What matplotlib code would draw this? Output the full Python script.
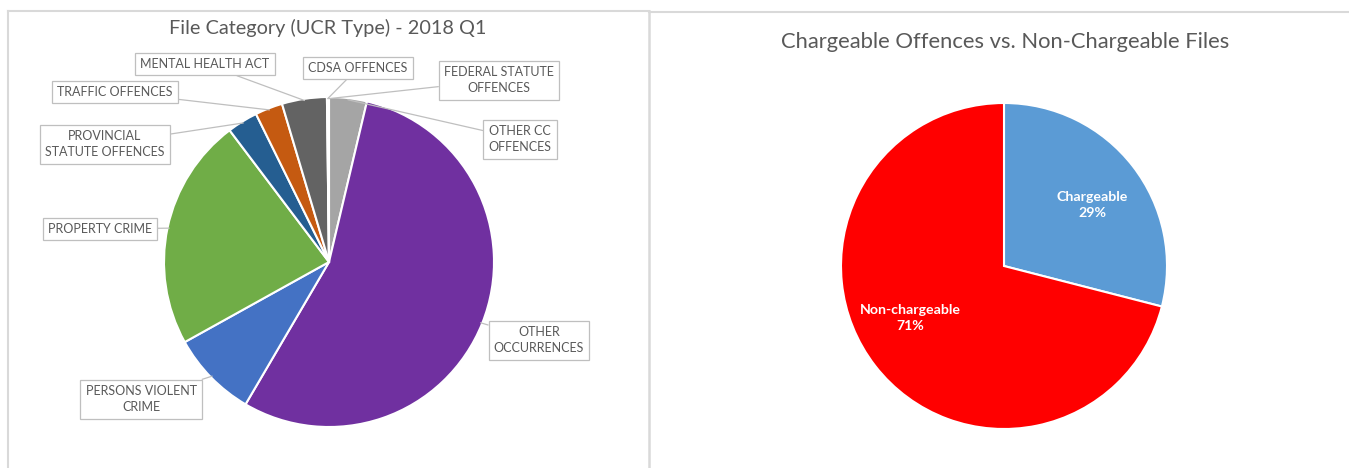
import matplotlib
matplotlib.use("Agg")
import matplotlib.pyplot as plt
import numpy as np
from matplotlib.lines import Line2D

plt.rcParams['font.family'] = ['Lato', 'DejaVu Sans']

W, H = 1349, 468

# ---- data ----
ucr_labels = ["OTHER CC\nOFFENCES", "OTHER\nOCCURRENCES", "PERSONS VIOLENT\nCRIME",
              "PROPERTY CRIME", "PROVINCIAL\nSTATUTE OFFENCES", "TRAFFIC OFFENCES",
              "MENTAL HEALTH ACT", "CDSA OFFENCES", "FEDERAL STATUTE\nOFFENCES"]
ucr_values = [3.7, 54.8, 8.5, 22.8, 3.0, 2.7, 4.4, 0.15, 0.05]
ucr_colors = ["#a5a5a5", "#7030a0", "#4472c4", "#70ad47", "#255e91",
              "#c55a11", "#636363", "#9dc3e6", "#b4c7e7"]

charge_labels = ["Chargeable", "Non-chargeable"]
charge_values = [29, 71]
charge_colors = ["#5b9bd5", "#ff0000"]

# label box centres (pixels, from top-left)
ucr_label_pos = [(520, 139), (539, 340), (141, 399), (100, 229), (105, 144),
                 (115, 92), (205, 64), (358, 68), (499, 80)]


def fx(x):
    return x / W


def fy(y):
    return 1 - y / H


fig = plt.figure(figsize=(W / 100, H / 100), dpi=100)

# panel borders
border = "#d9d9d9"
fig.add_artist(Line2D([fx(8), fx(8)], [fy(11), fy(468)], color=border, lw=1.5))
fig.add_artist(Line2D([fx(8), fx(649)], [fy(11), fy(11)], color=border, lw=1.5))
fig.add_artist(Line2D([fx(649), fx(649)], [fy(11), fy(468)], color=border, lw=1.8))
fig.add_artist(Line2D([fx(649), fx(1349)], [fy(12), fy(12)], color=border, lw=1.5))

# ---- left pie ----
cx, cy, r = 329, 262, 165
axL = fig.add_axes([fx(cx - r), fy(cy + r), (2 * r) / W, (2 * r) / H])
wedges, _ = axL.pie(ucr_values, colors=ucr_colors, startangle=90, counterclock=False,
                    radius=1, wedgeprops=dict(edgecolor="white", linewidth=1.5))
axL.set_xlim(-1, 1)
axL.set_ylim(-1, 1)
axL.set_aspect("equal")
axL.axis("off")

for w, lab, (px, py) in zip(wedges, ucr_labels, ucr_label_pos):
    ang = np.deg2rad((w.theta1 + w.theta2) / 2)
    xy = (np.cos(ang) * 0.99, np.sin(ang) * 0.99)
    axL.annotate(lab, xy=xy, xycoords="data", xytext=(fx(px), fy(py)),
                 textcoords="figure fraction", ha="center", va="center",
                 fontsize=9, color="#595959", linespacing=1.45,
                 bbox=dict(boxstyle="square,pad=0.42", fc="white", ec="#bfbfbf", lw=0.9),
                 arrowprops=dict(arrowstyle="-", color="#bfbfbf", lw=0.9,
                                 shrinkA=0, shrinkB=0),
                 annotation_clip=False)

fig.text(fx(328), fy(28), "File Category (UCR Type) - 2018 Q1", ha="center", va="center",
         fontsize=14.3, color="#595959")

# ---- right pie ----
cx2, cy2, r2 = 1004, 266, 163
axR = fig.add_axes([fx(cx2 - r2), fy(cy2 + r2), (2 * r2) / W, (2 * r2) / H])
wR, _ = axR.pie(charge_values, colors=charge_colors, startangle=90, counterclock=False,
                radius=1, wedgeprops=dict(edgecolor="white", linewidth=1.5))
axR.set_xlim(-1, 1)
axR.set_ylim(-1, 1)
axR.set_aspect("equal")
axR.axis("off")

charge_text_pos = [(1092, 205), (910, 318)]
for lab, val, (px, py) in zip(charge_labels, charge_values, charge_text_pos):
    fig.text(fx(px), fy(py), f"{lab}\n{val}%", ha="center", va="center",
             fontsize=10.2, color="white", fontweight="bold", linespacing=1.45)

fig.text(fx(1005), fy(42), "Chargeable Offences vs. Non-Chargeable Files", ha="center",
         va="center", fontsize=15.8, color="#595959")

fig.savefig("out.png", dpi=100, facecolor="white")
